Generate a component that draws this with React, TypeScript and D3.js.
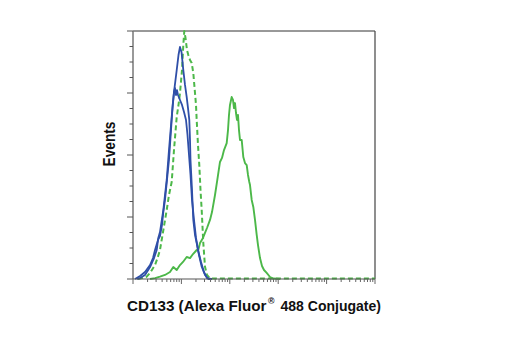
import React from "react";
import * as d3 from "d3";

// Fluorescence intensity (log scale) and event counts
const blueAX = [1.21, 1.4, 1.77, 2.25, 2.72, 3.09, 3.33, 3.61, 4.23, 4.97, 5.54, 6.3, 7.03, 8.0, 8.71, 9.35, 10.05, 10.95, 11.87, 12.87, 13.69, 14.56, 15.06, 15.42, 16.56, 17.62, 19.1, 20.7, 23.1, 26.27, 30.73, 35.95, 42.88];
const blueAY = [0, 0.6, 2.6, 7.7, 13.5, 18.7, 26.5, 30.3, 44.5, 63.9, 83.2, 104.5, 120.6, 134.8, 144.5, 149.7, 146.5, 134.8, 125.2, 117.4, 110.3, 102.6, 89.7, 76.8, 57.4, 38.1, 28.4, 23.2, 15.5, 7.9, 2.6, 0, 0];

const blueBX = [1.1, 1.4, 1.77, 2.25, 2.59, 2.85, 3.06, 3.29, 3.61, 3.97, 4.23, 4.58, 5.04, 5.54, 6.1, 6.61, 7.03, 7.38, 7.74, 8.11, 8.51, 9.35, 10.29, 11.32, 12.45, 13.37, 14.36, 15.42, 16.56, 18.21, 20.03, 22.03, 25.41, 29.3, 33.8, 40.89];
const blueBY = [0, 1.9, 4.5, 9.0, 13.5, 18.7, 21.9, 25.2, 27.7, 34.8, 43.2, 51.0, 63.9, 76.8, 96.1, 112.3, 120.6, 123.2, 118.7, 121.9, 118.7, 115.5, 112.3, 107.7, 102.6, 92.9, 80.0, 67.1, 51.0, 38.1, 26.5, 18.7, 11.0, 4.5, 0.6, 0];

const isoX = [1.27, 1.53, 1.92, 2.25, 2.85, 3.21, 3.61, 4.17, 4.97, 5.54, 6.3, 7.03, 8.0, 8.71, 9.35, 10.29, 10.95, 11.48, 12.16, 13.05, 13.89, 15.06, 16.32, 17.62, 18.48, 19.1, 20.03, 20.7, 22.03, 23.43, 24.81, 26.27, 28.35, 30.73, 33.8, 38.99, 100, 1000, 10000, 100000];
const isoY = [0, 0.6, 1.5, 3.9, 9.0, 13.5, 18.7, 30.3, 44.5, 54.2, 62.6, 83.2, 104.5, 112.3, 120.0, 134.8, 151.0, 160, 155.5, 147.7, 144.5, 141.3, 139.4, 132.9, 125.2, 120.0, 112.3, 102.6, 86.5, 73.5, 57.4, 44.5, 23.2, 7.9, 2.6, 0.4, 0.4, 0.4, 0.4, 0.4];

const greenX = [2.25, 2.85, 3.61, 4.58, 5.81, 6.8, 8.0, 9.35, 10.79, 12.87, 15.06, 17.37, 20.7, 22.35, 24.23, 27.94, 30.73, 33.8, 38.99, 42.88, 49.46, 55.2, 62.7, 69.0, 75.9, 86.3, 91.8, 96.2, 100.9, 109.4, 116.4, 122.1, 128.0, 134.3, 140.8, 147.6, 154.8, 162.4, 176.2, 190.1, 206.1, 223.5, 237.7, 252.9, 261.5, 283.4, 306.0, 331.7, 359.6, 382.6, 420.9, 462.6, 508.9, 578.4, 677.3, 792, 1089];
const greenY = [0, 0.6, 1.5, 2.6, 4.5, 7.7, 5.8, 9.0, 11.0, 14.2, 13.5, 16.1, 18.7, 18.7, 23.2, 26.5, 29.7, 32.9, 38.1, 43.2, 54.2, 63.9, 75.5, 78.1, 83.2, 87.7, 96.1, 105.8, 112.3, 117.4, 115.5, 110.3, 113.5, 107.1, 102.6, 105.8, 96.1, 89.7, 89.7, 78.7, 74.8, 73.5, 67.1, 62.6, 60.6, 51.0, 46.5, 38.1, 28.4, 21.9, 13.5, 8.4, 5.8, 3.9, 1.3, 0.3, 0];

const xDomain = [1, 100000];
const yDomain = [0, 160];
const xTitle = "CD133 (Alexa Fluor";
const xTitleSup = "®";
const xTitleEnd = "488 Conjugate)";
const yTitle = "Events";

const BLUE = "#2f4fa8";
const GREEN = "#4cb849";
const FONT = "'Liberation Sans', Arial, sans-serif";

export default function App() {
  const L = 133, R = 375, T = 31, B = 279;
  const x = d3.scaleLog().domain(xDomain).range([L, R]);
  const y = d3.scaleLinear().domain(yDomain).range([B, T]);
  const line = d3
    .line<[number, number]>()
    .x((d) => x(d[0]))
    .y((d) => y(d[1]));
  const pts = (xs: number[], ys: number[]) => xs.map((v, i) => [v, ys[i]] as [number, number]);

  const xTicks = x.ticks();
  const yTicks = y.ticks(16);
  const isMajorX = (v: number) => Math.abs(Math.log10(v) - Math.round(Math.log10(v))) < 1e-6;

  return (
    <svg width={520} height={350} style={{ position: "absolute", left: 0, top: 0 }}>
      <rect width={520} height={350} fill="#fff" />
      {/* frame */}
      <line x1={L} y1={T} x2={R} y2={T} stroke="#333" strokeWidth={1} />
      <line x1={R} y1={T} x2={R} y2={B} stroke="#444" strokeWidth={1.2} />
      {/* curves */}
      <path d={line(pts(greenX, greenY)) || ""} fill="none" stroke={GREEN} strokeWidth={1.9} strokeLinejoin="round" />
      <path d={line(pts(isoX, isoY)) || ""} fill="none" stroke={GREEN} strokeWidth={2} strokeDasharray="5,3" strokeLinejoin="round" />
      <path d={line(pts(blueBX, blueBY)) || ""} fill="none" stroke={BLUE} strokeWidth={1.8} strokeLinejoin="round" />
      <path d={line(pts(blueAX, blueAY)) || ""} fill="none" stroke={BLUE} strokeWidth={1.8} strokeLinejoin="round" />
      {/* axes */}
      <line x1={L} y1={T} x2={L} y2={B} stroke="#777" strokeWidth={1.5} />
      <line x1={L} y1={B} x2={R} y2={B} stroke="#555" strokeWidth={1.2} />
      {yTicks.map((v) => {
        const major = v % 40 === 0;
        return (
          <line key={"y" + v} x1={L - (major ? 6 : 3.5)} x2={L} y1={y(v)} y2={y(v)} stroke="#555" strokeWidth={1} />
        );
      })}
      {xTicks.map((v, i) => {
        const major = isMajorX(v);
        return (
          <line key={"x" + i} x1={x(v)} x2={x(v)} y1={B} y2={B + (major ? 5 : 3)} stroke="#666" strokeWidth={1} />
        );
      })}
      {/* titles */}
      <text
        transform="translate(115,144) rotate(-90)"
        textAnchor="middle"
        fontFamily={FONT}
        fontWeight="bold"
        fontSize={16}
        textLength={45}
        lengthAdjust="spacingAndGlyphs"
        fill="#111"
      >
        {yTitle}
      </text>
      <text x={127} y={311} fontFamily={FONT} fontWeight="bold" fontSize={15.2} textLength={139.5} lengthAdjust="spacingAndGlyphs" fill="#111">
        {xTitle}
      </text>
      <text x={268} y={304} fontFamily={FONT} fontWeight="bold" fontSize={9} textLength={6.5} lengthAdjust="spacingAndGlyphs" fill="#111">
        {xTitleSup}
      </text>
      <text x={280.5} y={311} fontFamily={FONT} fontWeight="bold" fontSize={15.2} textLength={100.5} lengthAdjust="spacingAndGlyphs" fill="#111">
        {xTitleEnd}
      </text>
    </svg>
  );
}
